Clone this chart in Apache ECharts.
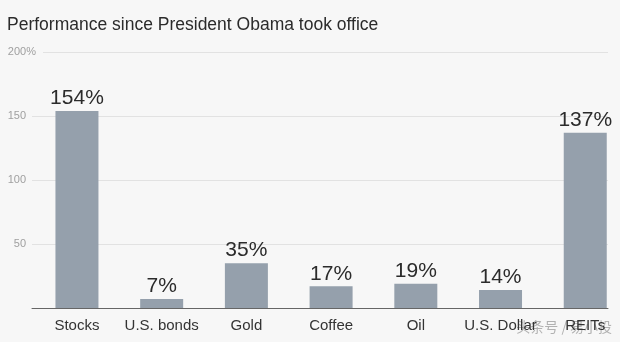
<!DOCTYPE html>
<html>
<head>
<meta charset="utf-8">
<script src="https://cdn.jsdelivr.net/npm/echarts@6/dist/echarts.min.js"></script>
<style>
html,body{margin:0;padding:0;background:#f7f7f7;}
#c{width:620px;height:342px;}
</style>
</head>
<body>
<div id="c"></div>
<script>
var categories = ['Stocks', 'U.S. bonds', 'Gold', 'Coffee', 'Oil', 'U.S. Dollar', 'REITs'];
var values = [154, 7, 35, 17, 19, 14, 137];
var yTicks = [0, 50, 100, 150, 200];
var titleText = 'Performance since President Obama took office';
var watermark = '头条号 / 易小投';

var FONT = '"Liberation Sans", Arial, Helvetica, sans-serif';
var chart = echarts.init(document.getElementById('c'), null, {renderer: 'canvas'});
chart.setOption({
  backgroundColor: '#f7f7f7',
  animation: false,
  title: {
    text: titleText,
    left: 2, top: 11,
    textStyle: {fontFamily: FONT, fontSize: 17.5, fontWeight: 'normal', color: '#2b2b2b'}
  },
  graphic: [{
    type: 'text', right: 8, top: 320,
    style: {text: watermark, fill: 'rgba(120,120,120,0.55)', font: '14px "Noto Sans CJK SC"'}
  }],
  grid: [
    {left: 34.6, width: 593, top: 52, bottom: 34, outerBoundsMode: 'none', containLabel: false},
    {left: 32, right: 12, top: 52, bottom: 34, outerBoundsMode: 'none', containLabel: false}
  ],
  xAxis: [
    {
      type: 'category', data: categories, gridIndex: 0,
      axisLine: {show: false}, axisTick: {show: false},
      axisLabel: {interval: 0, fontFamily: FONT, fontSize: 15, color: '#333', margin: 10}
    },
    {
      type: 'category', data: categories, gridIndex: 1,
      axisLine: {show: true, lineStyle: {color: '#666', width: 1}},
      axisTick: {show: false}, axisLabel: {show: false}
    }
  ],
  yAxis: [
    {
      type: 'value', gridIndex: 0, min: 0, max: 200, interval: 50,
      axisLine: {show: false}, axisTick: {show: false},
      axisLabel: {show: false}, splitLine: {show: false}
    },
    {
      type: 'value', gridIndex: 1, min: 0, max: 200, interval: 50, position: 'left',
      axisLine: {show: false}, axisTick: {show: false},
      splitLine: {show: true, lineStyle: {color: '#e2e2e2', width: 1}},
      axisLabel: {
        fontFamily: FONT, fontSize: 11, color: '#a0a0a0', margin: 6,
        formatter: function (v) { return (v === 0 || v === 200) ? '' : String(v); }
      }
    },
    {
      type: 'value', gridIndex: 1, min: 0, max: 200, interval: 50, position: 'left', offset: 0,
      axisLine: {show: false}, axisTick: {show: false}, splitLine: {show: false},
      axisLabel: {
        fontFamily: FONT, fontSize: 11, color: '#a0a0a0', margin: -11,
        formatter: function (v) { return v === 200 ? '{a|200%}' : ''; },
        rich: {
          a: {fontFamily: FONT, fontSize: 11, color: '#a0a0a0',
              backgroundColor: '#f7f7f7', padding: [2, 7, 2, 2]}
        }
      }
    }
  ],
  series: [{
    type: 'bar', xAxisIndex: 0, yAxisIndex: 0,
    data: values, barWidth: 43,
    itemStyle: {color: '#95a0ac'},
    label: {
      show: true, position: 'top', distance: 2,
      fontFamily: FONT, fontSize: 21, color: '#2b2b2b',
      formatter: function (p) { return p.value + '%'; }
    }
  }]
});
</script>
</body>
</html>
